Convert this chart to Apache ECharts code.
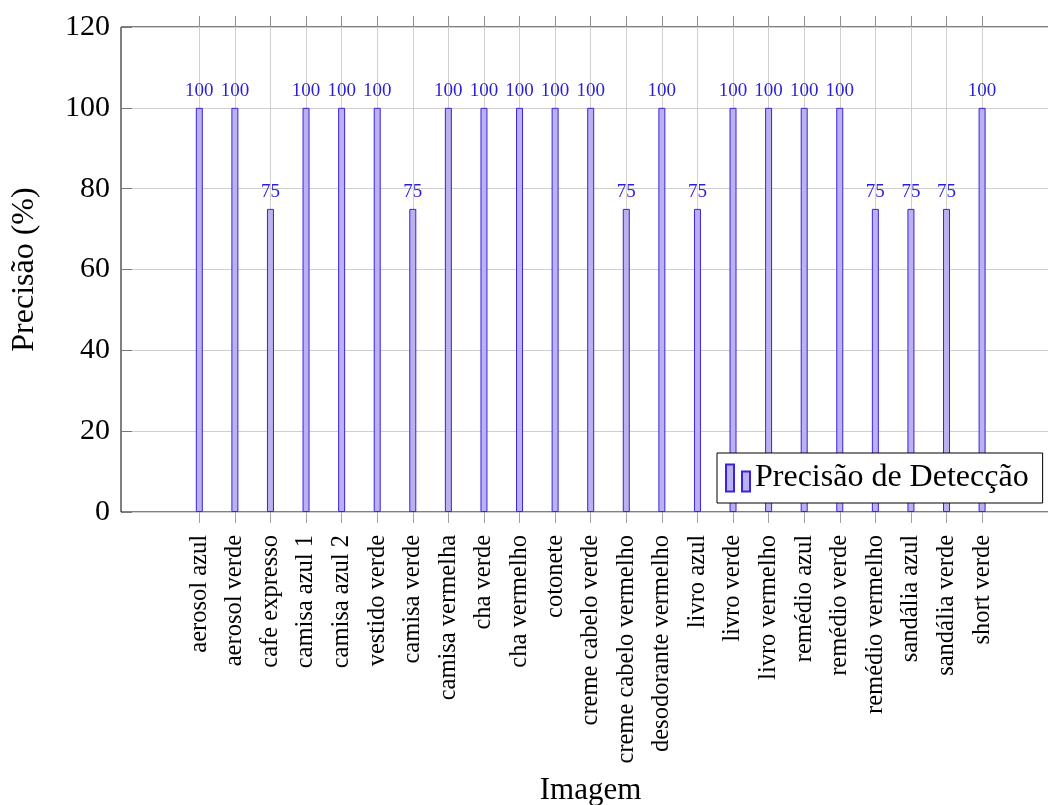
<!DOCTYPE html>
<html>
<head>
<meta charset="utf-8">
<title>Precisão de Detecção</title>
<script src="https://cdn.jsdelivr.net/npm/echarts@6/dist/echarts.min.js"></script>
<style>
  html, body { margin: 0; padding: 0; background: #fff; }
  #chart { width: 1048px; height: 805px; }
</style>
</head>
<body>
<div id="chart"></div>
<script>
// Image names along the x axis
const categories = [
  'aerosol azul', 'aerosol verde', 'cafe expresso', 'camisa azul 1', 'camisa azul 2',
  'vestido verde', 'camisa verde', 'camisa vermelha', 'cha verde', 'cha vermelho',
  'cotonete', 'creme cabelo verde', 'creme cabelo vermelho', 'desodorante vermelho',
  'livro azul', 'livro verde', 'livro vermelho', 'remédio azul', 'remédio verde',
  'remédio vermelho', 'sandália azul', 'sandália verde', 'short verde'
];

// Detection precision per image (%)
const precision = [
  100, 100, 75, 100, 100,
  100, 75, 100, 100, 100,
  100, 100, 75, 100,
  75, 100, 100, 100, 100,
  75, 75, 75, 100
];

// Y axis ticks
const yTicks = [0, 20, 40, 60, 80, 100, 120];

const FONT = 'Liberation Serif';
const BAR_FILL = '#bab2ee';
const BAR_EDGE = '#3a22e0';
const LABEL_BLUE = '#2b1ed8';

const chart = echarts.init(document.getElementById('chart'), null, { renderer: 'canvas' });

const barData = precision.map((v, i) => [i, v]);

chart.setOption({
  animation: false,
  backgroundColor: '#fff',
  grid: [
    // frame of the plot area (extends past the right edge of the canvas)
    { left: 121, top: 27, width: 939, height: 485, show: true, borderColor: '#000', borderWidth: 1,
      backgroundColor: 'transparent', outerBoundsMode: 'none', containLabel: false },
    // bar positions: first category centre to last category centre
    { left: 199.3, top: 27, width: 782.8, height: 485, outerBoundsMode: 'none', containLabel: false }
  ],
  xAxis: [
    {
      gridIndex: 0, type: 'value', min: 0, max: 1,
      axisLine: { show: false }, axisTick: { show: false }, axisLabel: { show: false }, splitLine: { show: false },
      name: 'Imagem', nameLocation: 'middle', nameGap: 263,
      nameTextStyle: { fontFamily: FONT, fontSize: 31, color: '#000' }
    },
    {
      gridIndex: 1, type: 'value', min: 0, max: categories.length - 1, interval: 1,
      axisLine: { show: false },
      axisTick: { show: true, inside: false, length: 11, lineStyle: { color: '#a0a0a0', width: 1 } },
      axisLabel: {
        show: true, rotate: 90, margin: 23, showMinLabel: true, showMaxLabel: true,
        fontFamily: FONT, fontSize: 24.5, color: '#000',
        formatter: v => categories[v] || ''
      },
      splitLine: { show: true, lineStyle: { color: '#cfcfcf', width: 1 } }
    },
    {
      gridIndex: 1, type: 'value', position: 'top', min: 0, max: categories.length - 1, interval: 1,
      axisLine: { show: false },
      axisTick: { show: true, inside: false, length: 11, lineStyle: { color: '#909090', width: 1 } },
      axisLabel: { show: false }, splitLine: { show: false }
    }
  ],
  yAxis: [
    {
      gridIndex: 0, type: 'value', min: yTicks[0], max: yTicks[yTicks.length - 1], interval: 20,
      axisLine: { show: false },
      axisTick: { show: true, inside: true, length: 11, lineStyle: { color: '#777', width: 1 } },
      axisLabel: { fontFamily: FONT, fontSize: 30, color: '#000', margin: 11 },
      splitLine: { show: true, lineStyle: { color: '#cfcfcf', width: 1 } },
      name: 'Precisão (%)', nameLocation: 'middle', nameGap: 80, nameRotate: 90,
      nameTextStyle: { fontFamily: FONT, fontSize: 32, color: '#000' }
    },
    {
      gridIndex: 1, type: 'value', min: yTicks[0], max: yTicks[yTicks.length - 1],
      show: false
    }
  ],
  legend: {
    left: 717, top: 453,
    orient: 'horizontal',
    backgroundColor: '#fff', borderColor: '#000', borderWidth: 1, borderRadius: 0,
    padding: [9, 14, 9, 8],
    itemWidth: 24, itemHeight: 27,
    icon: 'path://M0,0H8V27H0Z M16,7H24V27H16Z',
    textStyle: { fontFamily: FONT, fontSize: 32, color: '#000', lineHeight: 31 },
    data: ['Precisão de Detecção']
  },
  series: [
    {
      name: 'Precisão de Detecção',
      type: 'bar',
      xAxisIndex: 1, yAxisIndex: 1,
      barWidth: 7,
      data: barData,
      itemStyle: { color: BAR_FILL, borderColor: BAR_EDGE, borderWidth: 1 },
      label: {
        show: true, position: 'top', distance: 7,
        fontFamily: FONT, fontSize: 19, color: LABEL_BLUE,
        formatter: p => String(p.value[1])
      }
    }
  ]
});
</script>
</body>
</html>
